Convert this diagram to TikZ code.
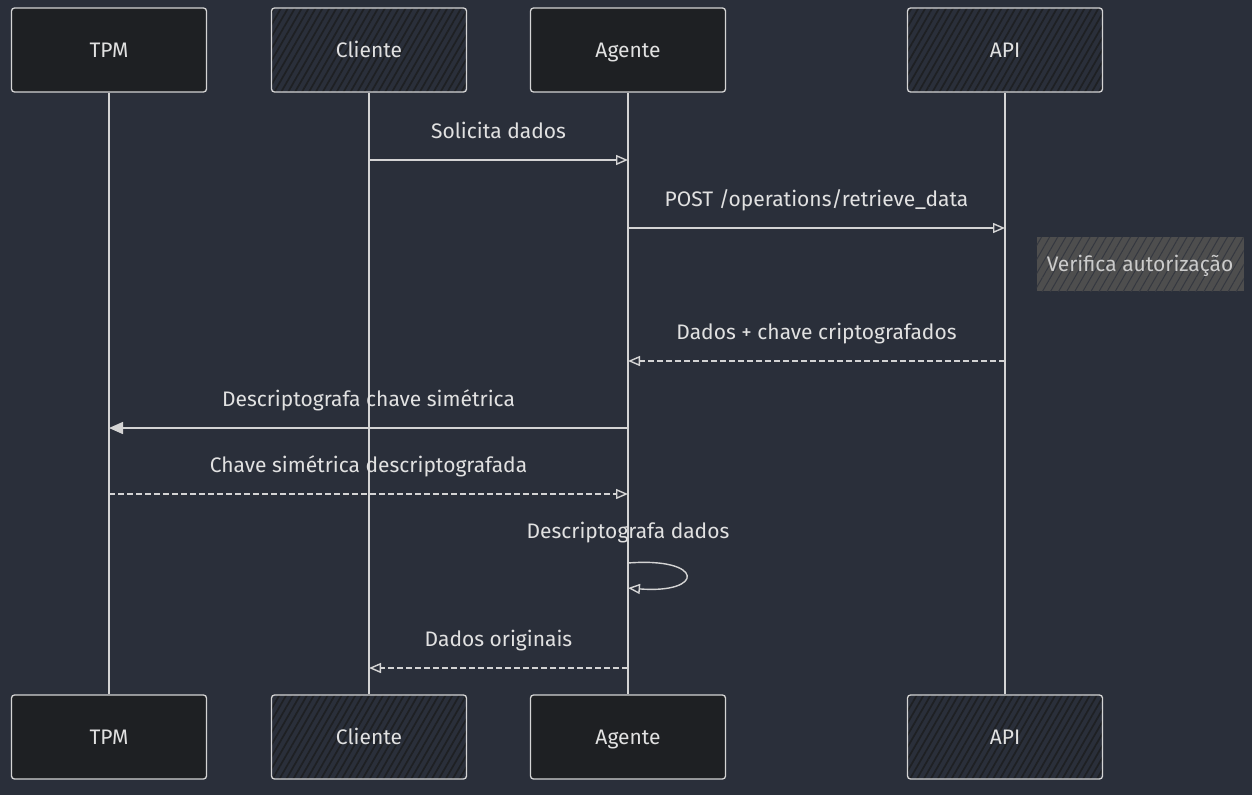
\documentclass[tikz,border=0pt]{standalone}
\usepackage{fontspec}
\setmainfont{Fira Sans}
\usetikzlibrary{arrows.meta, patterns.meta, positioning}
\definecolor{bgcol}{RGB}{42,47,58}
\definecolor{boxcol}{RGB}{30,32,35}
\definecolor{notecol}{RGB}{78,78,78}
\definecolor{linecol}{RGB}{212,212,212}
\definecolor{txtcol}{RGB}{225,225,225}

\begin{document}
\begin{tikzpicture}[x=1pt, y=-1pt,
				>={Triangle[open, length=12pt, width=10pt]},   %open tips for the messages
				font=\fontsize{21}{25}\selectfont,
				every node/.style={text height=1.45em, text depth=0em},
				actor/.style={draw=linecol, line width=1.3pt, rounded corners=3pt, minimum width=195pt, minimum height=84pt, fill=boxcol, text=txtcol},
				hatched/.style={actor, preaction={fill=bgcol}, fill=none, pattern={Lines[angle=60, distance=6pt, line width=1.7pt]}, pattern color=boxcol},
				lifeline/.style={draw=linecol, line width=1.4pt},
				msg/.style={draw=linecol, line width=1.4pt, ->},
				reply/.style={msg, dash pattern=on 6pt off 3pt},
				lbl/.style={text=txtcol, above=17pt}]
				%Hintergrund
				\fill[bgcol] (0,0) rectangle (1252,795);
				% Teilnehmer oben und unten
				\foreach \n/\t/\x in {tpm/TPM/109, age/Agente/628}
				{
					\node[actor] (\n) at (\x,50) {\t};
					\node[actor] (\n-b) at (\x,737) {\t};
				}
				\foreach \n/\t/\x in {cli/Cliente/369, api/API/1005}
				{
					\node[hatched] (\n) at (\x,50) {\t};
					\node[hatched] (\n-b) at (\x,737) {\t};
				}
				% Lebenslinien
				\foreach \n in {tpm, cli, age, api} \draw[lifeline] (\n) -- (\n-b);
				% Nachrichten
				\coordinate (m1a) at (cli |- 0,160);  \coordinate (m1b) at (age |- 0,160);
				\coordinate (m2a) at (age |- 0,228);  \coordinate (m2b) at (api |- 0,228);
				\coordinate (m4a) at (api |- 0,361);  \coordinate (m4b) at (age |- 0,361);
				\coordinate (m5a) at (age |- 0,428);  \coordinate (m5b) at (tpm |- 0,428);
				\coordinate (m6a) at (tpm |- 0,494);  \coordinate (m6b) at (age |- 0,494);
				\coordinate (m7a) at (age |- 0,563);  \coordinate (m7b) at (age |- 0,588);
				\coordinate (m8a) at (age |- 0,668);  \coordinate (m8b) at (cli |- 0,668);
				\draw[msg] (m1a) -- (m1b) node[midway, lbl] (t1) {Solicita dados};
				\draw[msg] (m2a) -- (m2b) node[midway, lbl] (t2) {POST /operations/retrieve\_data};
				\node[fill=notecol, pattern={Lines[angle=60, distance=7pt, line width=1pt]}, pattern color=bgcol!70!notecol, preaction={fill=notecol},
					minimum width=207pt, minimum height=54pt, inner xsep=2pt, text=txtcol!85!notecol] (chk) at (1140,264) {Verifica autorização};
				\draw[reply] (m4a) -- (m4b) node[midway, lbl] (t4) {Dados + chave criptografados};
				\draw[msg, >={Triangle[length=14pt, width=12pt]}] (m5a) -- (m5b) node[midway, lbl] (t5) {Descriptografa chave simétrica};
				\draw[reply] (m6a) -- (m6b) node[midway, lbl] (t6) {Chave simétrica descriptografada};
				\node[text=txtcol] (t7) at (age |- 0,531) {Descriptografa dados};
				\draw[msg] (m7a) .. controls (705,557) and (705,594) .. (m7b);
				\draw[reply] (m8a) -- (m8b) node[midway, lbl] (t8) {Dados originais};
			\end{tikzpicture}
\end{document}
